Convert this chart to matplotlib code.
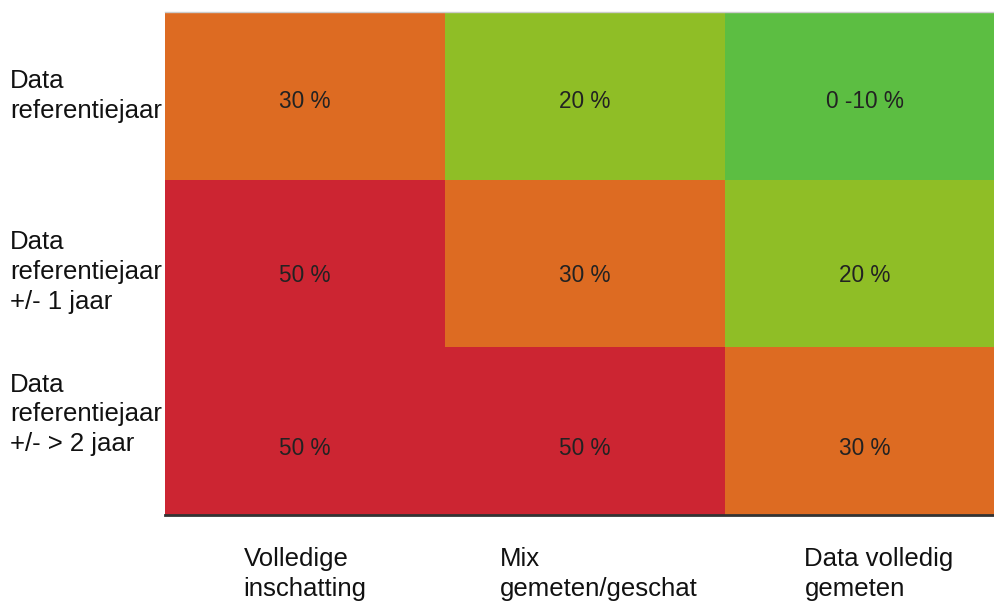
import numpy as np
import matplotlib
import matplotlib.pyplot as plt
from matplotlib.colors import ListedColormap
import matplotlib.transforms as mtransforms

matplotlib.rcParams["font.family"] = ["Liberation Sans", "DejaVu Sans"]

row_labels = ["Data\nreferentiejaar", "Data\nreferentiejaar\n+/- 1 jaar", "Data\nreferentiejaar\n+/- > 2 jaar"]
col_labels = ["Volledige\ninschatting", "Mix\ngemeten/geschat", "Data volledig\ngemeten"]
cell_text = [["30 %", "20 %", "0 -10 %"],
             ["50 %", "30 %", "20 %"],
             ["50 %", "50 %", "30 %"]]
# upper bound of each cell's percentage, used for the colour class
cell_value = np.array([[30, 20, 10],
                       [50, 30, 20],
                       [50, 50, 30]])

levels = [10, 20, 30, 50]
colors = ["#5CBE42", "#8FBE26", "#DD6B22", "#CC2532"]

cls = np.array([[levels.index(v) for v in row] for row in cell_value])

fig = plt.figure(figsize=(9.94, 6.03), dpi=100)
ax = fig.add_axes([165 / 994, 88 / 603, 840 / 994, 503 / 603])
ax.pcolormesh(np.arange(4), np.arange(4), cls, cmap=ListedColormap(colors), vmin=-0.5, vmax=3.5)
ax.set_xlim(0, 3)
ax.set_ylim(3, 0)

for r in range(3):
    for c in range(3):
        ax.text(c + 0.5, r + 0.5 + 0.035 * (r + 1), cell_text[r][c], ha="center", va="center",
                fontsize=16.3, color="#222222")

trans_y = mtransforms.blended_transform_factory(fig.transFigure, ax.transData)
label_shift = [0.0, 0.05, -0.1]
for r, lab in enumerate(row_labels):
    ax.text(10 / 994, r + 0.5 + label_shift[r], lab, transform=trans_y, ha="left", va="center",
            fontsize=18.5, linespacing=1.3, color="#111111")

trans_x = mtransforms.blended_transform_factory(ax.transData, fig.transFigure)
col_shift = [0.0, 0.05, 0.05]
for c, lab in enumerate(col_labels):
    ax.text(c + 0.5 + col_shift[c], 1 - 547 / 603, lab, transform=trans_x, ha="center", va="top",
            multialignment="left", fontsize=18.5, linespacing=1.3, color="#111111")

ax.set_xticks([])
ax.set_yticks([])
for s in ["left", "right"]:
    ax.spines[s].set_visible(False)
ax.spines["top"].set_color("#cccccc")
ax.spines["top"].set_linewidth(1.0)
ax.spines["bottom"].set_color("#333333")
ax.spines["bottom"].set_linewidth(2.0)

plt.savefig("out.png", dpi=100)
